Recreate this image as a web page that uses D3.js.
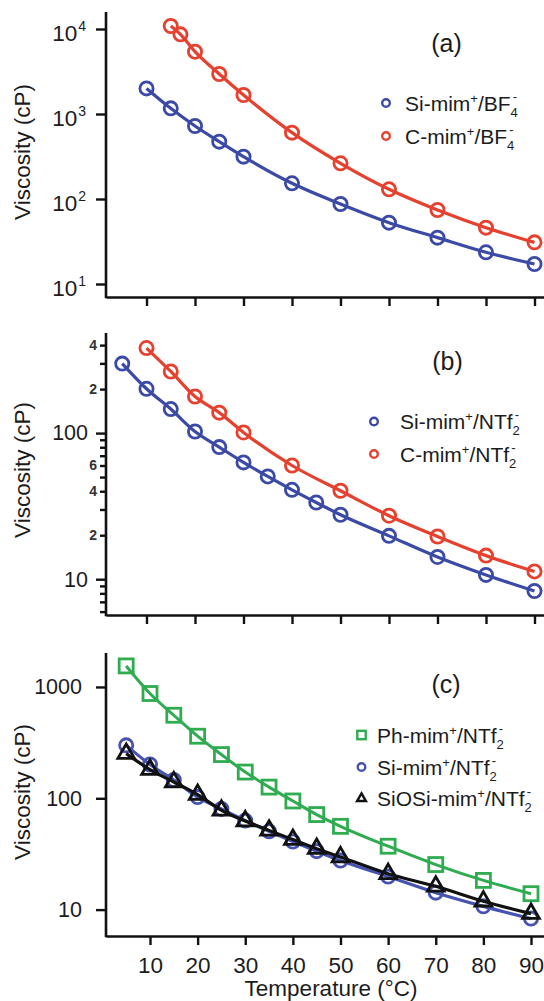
<!DOCTYPE html>
<html><head><meta charset="utf-8">
<script src="https://cdn.jsdelivr.net/npm/d3@7"></script>
<style>
body{margin:0;background:#fff}
svg{display:block;background:#fff}
text{font-family:"Liberation Sans",Arial,sans-serif;fill:#1c1c1c}
</style>
</head><body>
<svg id="chart" width="544" height="1001"></svg>
<script>
// ---------- data ----------
const xTicks = [10, 20, 30, 40, 50, 60, 70, 80, 90];

// panel (a)
const tempsSiBF4 = [10, 15, 20, 25, 30, 40, 50, 60, 70, 80, 90];
const viscSiBF4  = [2000, 1166, 723, 473, 315, 153, 87.3, 52.7, 35.1, 23.6, 17.2];
const tempsCBF4  = [15, 17, 20, 25, 30, 40, 50, 60, 70, 80, 90];
const viscCBF4   = [10840, 8650, 5410, 2955, 1673, 603, 263, 130, 74.2, 46, 30.9];
const yTicksA    = [10, 100, 1000, 10000];
const yExpA      = ["1", "2", "3", "4"];

// panel (b)
const tempsSiNTf2 = [5, 10, 15, 20, 25, 30, 35, 40, 45, 50, 60, 70, 80, 90];
const viscSiNTf2  = [299, 201, 146, 102.5, 80.2, 63, 50.5, 40.9, 33.5, 27.6, 19.8, 14.2, 10.7, 8.3];
const tempsCNTf2  = [10, 15, 20, 25, 30, 40, 50, 60, 70, 80, 90];
const viscCNTf2   = [382, 264, 178, 138, 101, 60, 40.3, 27.2, 19.6, 14.5, 11.3];
const yMajorB     = [10, 100];
const yMinorB     = [6, 7, 8, 9, 20, 30, 40, 50, 60, 70, 80, 90, 200, 300, 400];
const yMinorLabB  = {20: "2", 40: "4", 60: "6", 200: "2", 400: "4"};

// panel (c)
const tempsPhNTf2   = [5, 10, 15, 20, 25, 30, 35, 40, 45, 50, 60, 70, 80, 90];
const viscPhNTf2    = [1545, 873, 557, 361, 247, 172, 126, 94.6, 71.4, 56, 37.1, 25.4, 18.3, 13.9];
const tempsSiOSi    = [5, 10, 15, 20, 25, 30, 35, 40, 45, 50, 60, 70, 80, 90];
const viscSiOSi     = [252, 181, 140, 108, 78, 62.5, 51.5, 42.6, 35.3, 29.7, 21, 16.2, 11.9, 9.2];
const yTicksC       = [10, 100, 1000];

// ---------- style ----------
const BLUE = "#3a4aa6", RED = "#e6402e", GREEN = "#2fac50", BLACK = "#111111", BLUE2 = "#4753b0";
const svg = d3.select("#chart");
const zip = (xs, ys) => xs.map((t, i) => ({t, v: ys[i]}));

function makePanel(cfg) {
  const g = svg.append("g");
  const x = d3.scaleLinear().domain(cfg.xd).range([106, 544]);
  const y = d3.scaleLog().domain(cfg.yd).range([cfg.bottom, cfg.top]);

  const xa = g.append("g").attr("transform", `translate(0,${cfg.bottom})`)
    .call(d3.axisBottom(x).tickValues(xTicks).tickSize(9).tickSizeOuter(0)
      .tickFormat(cfg.xLabels ? d3.format("d") : () => ""));
  xa.select(".domain").attr("stroke", "#111").attr("stroke-width", 2.6);
  xa.selectAll(".tick line").attr("stroke", "#111").attr("stroke-width", 2.4);
  xa.selectAll(".tick text").attr("font-size", 22.5).attr("y", 0).attr("dy", 0)
    .attr("transform", "translate(0,37)").style("fill", "#1c1c1c");

  g.append("line").attr("x1", 106).attr("x2", 106)
    .attr("y1", cfg.top).attr("y2", cfg.bottom + 1.3)
    .attr("stroke", "#111").attr("stroke-width", 2.6);

  return {g, x, y};
}

function styleY(sel) {
  sel.select(".domain").remove();
  sel.selectAll(".tick line").attr("stroke", "#111").attr("stroke-width", 2.4);
}

function drawSeries(p, temps, vals, color, marker, lw) {
  const pts = zip(temps, vals);
  const line = d3.line().x(d => p.x(d.t)).y(d => p.y(d.v)).curve(d3.curveMonotoneX);
  const mg = p.g.append("g");
  if (marker === "circle") {
    mg.selectAll("circle").data(pts).join("circle")
      .attr("cx", d => p.x(d.t)).attr("cy", d => p.y(d.v)).attr("r", 6.6)
      .attr("fill", "none").attr("stroke", color).attr("stroke-width", 2.8);
  } else if (marker === "square") {
    mg.selectAll("rect").data(pts).join("rect")
      .attr("x", d => p.x(d.t) - 7).attr("y", d => p.y(d.v) - 7)
      .attr("width", 14).attr("height", 14)
      .attr("fill", "none").attr("stroke", color).attr("stroke-width", 2.8);
  } else if (marker === "triangle") {
    mg.selectAll("path").data(pts).join("path")
      .attr("transform", d => `translate(${p.x(d.t)},${p.y(d.v)})`)
      .attr("d", d3.symbol(d3.symbolTriangle, 120))
      .attr("fill", "none").attr("stroke", color).attr("stroke-width", 2.8);
  }
  p.g.append("path").datum(pts).attr("d", line)
    .attr("fill", "none").attr("stroke", color).attr("stroke-width", lw || 3.2)
    .attr("stroke-linejoin", "round");
}

function ionLabel(textSel, cation, anion, sub) {
  textSel.append("tspan").text(cation);
  textSel.append("tspan").text("+").attr("font-size", 13).attr("dy", -8);
  textSel.append("tspan").text("/" + anion).attr("dy", 8);
  textSel.append("tspan").text(sub).attr("font-size", 13).attr("dy", 6);
  textSel.append("tspan").text("-").attr("font-size", 13).attr("dx", -5).attr("dy", -16);
}

function legend(p, items, mx, tx, rows) {
  items.forEach((it, i) => {
    const yy = rows[i];
    if (it.marker === "circle") {
      p.g.append("circle").attr("cx", mx).attr("cy", yy).attr("r", 3.8)
        .attr("fill", "none").attr("stroke", it.color).attr("stroke-width", 2.4);
    } else if (it.marker === "square") {
      p.g.append("rect").attr("x", mx - 4.2).attr("y", yy - 4.2).attr("width", 8.4).attr("height", 8.4)
        .attr("fill", "none").attr("stroke", it.color).attr("stroke-width", 2.4);
    } else {
      p.g.append("path").attr("transform", `translate(${mx},${yy})`)
        .attr("d", d3.symbol(d3.symbolTriangle, 34))
        .attr("fill", "none").attr("stroke", it.color).attr("stroke-width", 2.4);
    }
    const t = p.g.append("text").attr("x", tx).attr("y", yy + 7.5).attr("font-size", 21);
    ionLabel(t, it.cation, it.anion, it.sub);
  });
}

function yTitle(p, cy) {
  p.g.append("text").attr("transform", `translate(30,${cy}) rotate(-90)`)
    .attr("text-anchor", "middle").attr("font-size", 22.5).text("Viscosity (cP)");
}

function panelLabel(p, txt, cx, by) {
  p.g.append("text").attr("x", cx).attr("y", by).attr("text-anchor", "middle")
    .attr("font-size", 25).text(txt);
}

// ---------- panel (a) ----------
const pa = makePanel({xd: [1.649, 91.96], yd: [Math.pow(10, 0.847), Math.pow(10, 4.2)], bottom: 297, top: 12});
const ya = pa.g.append("g").attr("transform", "translate(106,0)")
  .call(d3.axisLeft(pa.y).tickValues(yTicksA).tickSize(10).tickFormat(() => ""));
styleY(ya);
yTicksA.forEach((v, i) => {
  const t = pa.g.append("text").attr("x", 86).attr("y", pa.y(v) + 12.5)
    .attr("text-anchor", "end").attr("font-size", 22.5);
  t.append("tspan").text("10");
  t.append("tspan").text(yExpA[i]).attr("font-size", 14).attr("dy", -10).attr("dx", 1);
});
drawSeries(pa, tempsSiBF4, viscSiBF4, BLUE, "circle");
drawSeries(pa, tempsCBF4, viscCBF4, RED, "circle");
yTitle(pa, 152);
panelLabel(pa, "(a)", 446.5, 52);
legend(pa, [
  {marker: "circle", color: BLUE, cation: "Si-mim", anion: "BF", sub: "4"},
  {marker: "circle", color: RED, cation: "C-mim", anion: "BF", sub: "4"}
], 386, 405, [103, 136]);

// ---------- panel (b) ----------
const pb = makePanel({xd: [1.649, 91.96], yd: [Math.pow(10, 0.755), Math.pow(10, 2.685)], bottom: 615, top: 333});
const ybMin = pb.g.append("g").attr("transform", "translate(106,0)")
  .call(d3.axisLeft(pb.y).tickValues(yMinorB).tickSize(6).tickPadding(3)
    .tickFormat(v => yMinorLabB[v] || ""));
styleY(ybMin);
ybMin.selectAll(".tick text").attr("font-size", 14).attr("font-weight", "bold").style("fill", "#333");
const ybMaj = pb.g.append("g").attr("transform", "translate(106,0)")
  .call(d3.axisLeft(pb.y).tickValues(yMajorB).tickSize(10).tickPadding(8)
    .tickFormat(d3.format("d")));
styleY(ybMaj);
ybMaj.selectAll(".tick text").attr("font-size", 21.5).style("fill", "#1c1c1c");
drawSeries(pb, tempsSiNTf2, viscSiNTf2, BLUE, "circle");
drawSeries(pb, tempsCNTf2, viscCNTf2, RED, "circle");
yTitle(pb, 470);
panelLabel(pb, "(b)", 447.5, 370);
legend(pb, [
  {marker: "circle", color: BLUE, cation: "Si-mim", anion: "NTf", sub: "2"},
  {marker: "circle", color: RED, cation: "C-mim", anion: "NTf", sub: "2"}
], 374, 400, [421.5, 454]);

// ---------- panel (c) ----------
const pc = makePanel({xd: [0.761, 92.73], yd: [Math.pow(10, 0.763), Math.pow(10, 3.305)], bottom: 936, top: 653, xLabels: true});
const yc = pc.g.append("g").attr("transform", "translate(106,0)")
  .call(d3.axisLeft(pc.y).tickValues(yTicksC).tickSize(10).tickPadding(14).tickFormat(d3.format("d")));
styleY(yc);
yc.selectAll(".tick text").attr("font-size", 21.5).style("fill", "#1c1c1c");
drawSeries(pc, tempsPhNTf2, viscPhNTf2, GREEN, "square", 3);
drawSeries(pc, tempsSiNTf2, viscSiNTf2, BLUE2, "circle", 3.2);
drawSeries(pc, tempsSiOSi, viscSiOSi, BLACK, "triangle", 3.2);
yTitle(pc, 792);
panelLabel(pc, "(c)", 446, 693);
legend(pc, [
  {marker: "square", color: GREEN, cation: "Ph-mim", anion: "NTf", sub: "2"},
  {marker: "circle", color: BLUE2, cation: "Si-mim", anion: "NTf", sub: "2"},
  {marker: "triangle", color: BLACK, cation: "SiOSi-mim", anion: "NTf", sub: "2"}
], 361.5, 377, [735, 767, 798.5]);

pc.g.append("text").attr("x", 331).attr("y", 996).attr("text-anchor", "middle")
  .attr("font-size", 22.5).text("Temperature (°C)");
</script>
</body></html>
